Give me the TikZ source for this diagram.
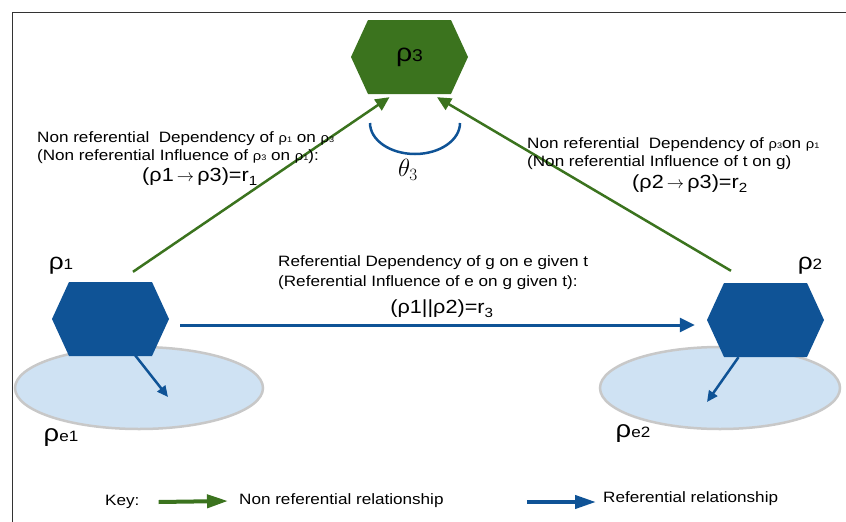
\documentclass[tikz,border=0pt]{standalone}
\usepackage{fontspec}
\setmainfont{Liberation Sans}[FakeStretch=1.14]
\usepackage{tikz}
\usetikzlibrary{shapes.geometric,arrows.meta}

\definecolor{nrgreen}{RGB}{59,115,30}
\definecolor{refblue}{RGB}{15,83,150}
\definecolor{poolblue}{RGB}{207,226,243}
\definecolor{rim}{RGB}{200,200,200}

% big rho with a smaller index, small rho for the running text
\newcommand{\rholbl}[3]{{\fontsize{#1}{#1}\selectfont ρ}{\fontsize{#2}{#2}\selectfont #3}}
\newcommand{\srho}[1]{{\fontsize{13}{13}\selectfont ρ}{\fontsize{8}{8}\selectfont #1}}
\newcommand{\rarr}{\,{\fontsize{19}{19}\selectfont$\rightarrow$}\,}

\tikzset{
    hexa/.style={minimum width=117pt, minimum height=74pt, inner sep=0pt,
        path picture={\fill[#1] (path picture bounding box.west)
            -- ([xshift=17pt]path picture bounding box.north west)
            -- ([xshift=-17pt]path picture bounding box.north east)
            -- (path picture bounding box.east)
            -- ([xshift=-17pt]path picture bounding box.south east)
            -- ([xshift=17pt]path picture bounding box.south west) -- cycle;}},
    envzone/.style={ellipse, draw=rim, line width=2.5pt, fill=poolblue,
        minimum width=248pt, minimum height=82pt},
    nonref/.style={nrgreen, line width=2.5pt, -{Triangle[length=14pt,width=13pt]}},
    refarrow/.style={refblue, line width=3pt, -{Triangle[length=15pt,width=14pt]}},
    subarrow/.style={refblue, line width=2.5pt, -{Triangle[length=11pt,width=10pt]}},
    keyarrow/.style={line width=4pt, -{Triangle[length=21pt,width=13pt]}},
    note/.style={font=\fontsize{15}{18}\selectfont, align=left, inner sep=0pt},
    eqn/.style={font=\fontsize{19}{20}\selectfont, inner sep=0pt}
}

\begin{document}
\begin{tikzpicture}[x=1pt, y=-1pt]
    \useasboundingbox (0,0) rectangle (846,522);
    \draw[black!80, line width=0.8pt] (12,522) -- (12,12) -- (846,12);

    % areas of the referents
    \node[envzone] (e1) at (139,388) {};
    \node[envzone, minimum width=240pt] (e2) at (720,388) {};

    % the three hexagons
    \node[hexa=nrgreen] (r3) at (409.5,57) {\rholbl{25}{17}{3}};
    \node[hexa=refblue] (r1) at (110.5,319) {};
    \node[hexa=refblue] (r2) at (765.5,320) {};

    \node (lr1) at (61,266) {\rholbl{23}{15}{1}};
    \node (lr2) at (810,266) {\rholbl{23}{15}{2}};
    \node (le1) at (61,438) {\rholbl{24}{15}{e1}};
    \node (le2) at (633,434) {\rholbl{24}{15}{e2}};

    % non referential relations
    \draw[nonref] ([shift={(22.5,-10)}]r1.north) -- ([shift={(-20,3)}]r3.south);
    \draw[nonref] ([shift={(-34.5,-12)}]r2.north) -- ([shift={(27.5,3)}]r3.south);

    % referential relation
    \draw[refarrow] ([shift={(11,6)}]r1.east) -- ([shift={(-12,5)}]r2.west);
    \draw[subarrow] ([shift={(23,-3)}]r1.south) -- ([shift={(29,9)}]e1.center);
    \draw[subarrow] ([shift={(-27,0)}]r2.south) -- ([shift={(-13,14)}]e2.center);

    % angle at rho 3
    \draw[refblue, line width=2.5pt] (370,123) arc[start angle=180, end angle=0, x radius=45, y radius=31];
    \node (th3) at (408,170) {\fontsize{23}{23}\selectfont$\theta_3$};

    % labels
    \node[note, anchor=west] (d13) at (37,148)
        {Non referential\ \ Dependency of \srho{1} on \srho{3}\\
         (Non referential Influence of \srho{3} on \srho{1}):};
    \node[eqn] (q13) at (200,177) {(ρ1\rarr ρ3)=r\textsubscript{1}};
    \node[note, anchor=west] (d23) at (527,154)
        {Non referential\ \ Dependency of \srho{3}on \srho{1}\\
         (Non referential Influence of t on g)};
    \node[eqn] (q23) at (690,184) {(ρ2\rarr ρ3)=r\textsubscript{2}};
    \node[note, anchor=west] (d12) at (278,273)
        {Referential Dependency of g on e given t\\[2pt]
         (Referential Influence of e on g given t):};
    \node[eqn] (q12) at (442,309) {(ρ1||ρ2)=r\textsubscript{3}};

    % key
    \node[note, anchor=west] (key) at (105,502) {Key:};
    \node[note, anchor=west] (nrtxt) at (239,501) {Non referential relationship};
    \node[note, anchor=west] (rtxt) at (603,499) {Referential relationship};
    \draw[keyarrow, nrgreen] ([xshift=19pt]key.east) -- ([xshift=-11pt]nrtxt.west);
    \draw[keyarrow, refblue] ([xshift=83pt,yshift=-1pt]nrtxt.east) -- ([shift={(-7,3)}]rtxt.west);
\end{tikzpicture}
\end{document}
